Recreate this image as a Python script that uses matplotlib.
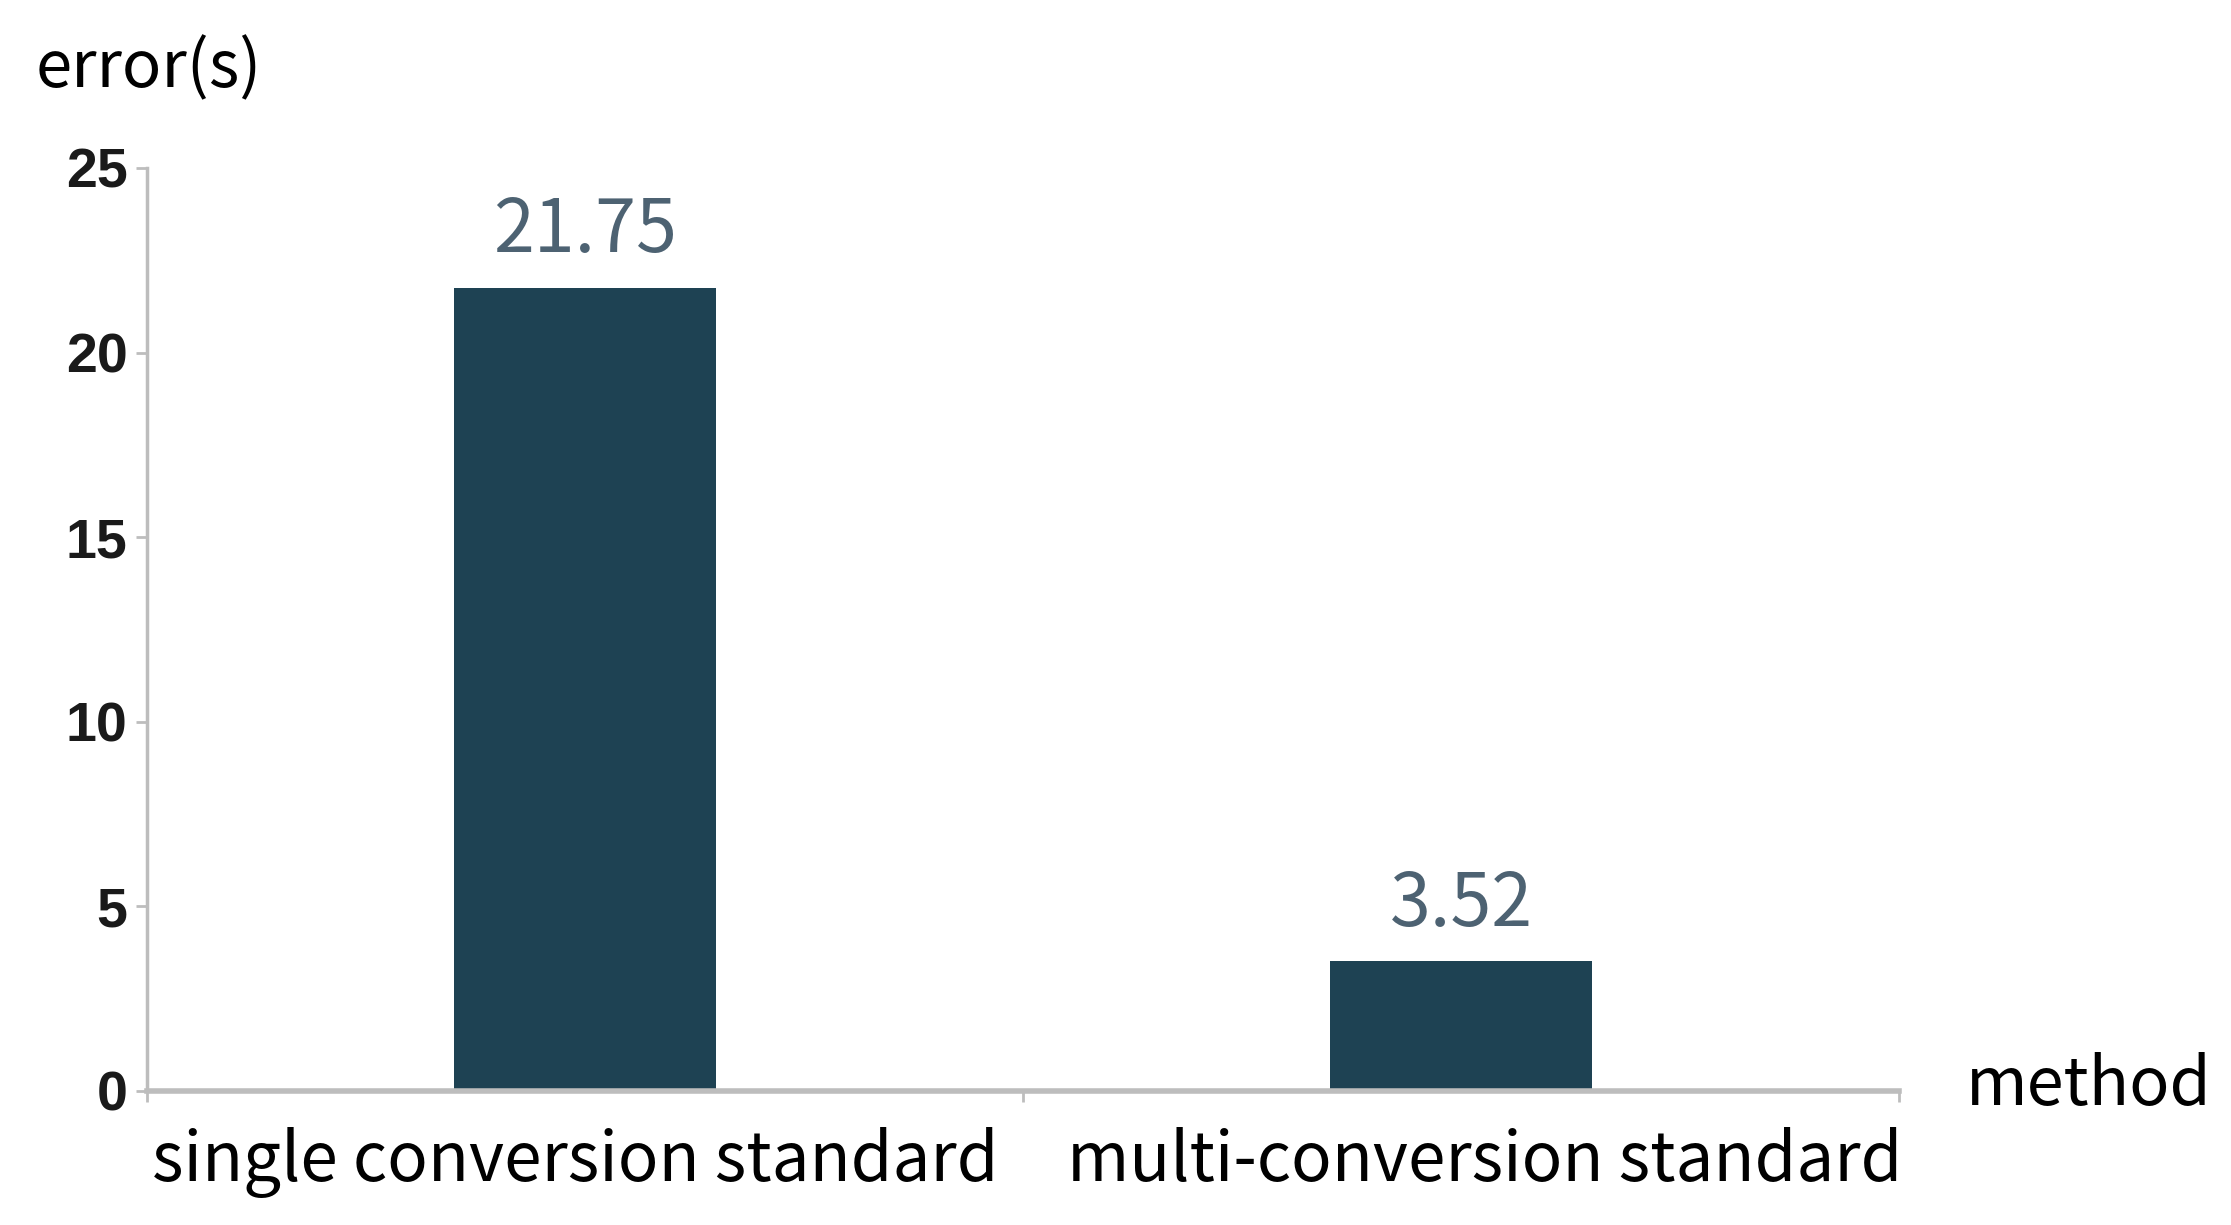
import matplotlib.pyplot as plt
import matplotlib.transforms as mtransforms

categories = ['single conversion standard', 'multi-conversion standard']
errors = [21.75, 3.52]
y_ticks = [0, 5, 10, 15, 20, 25]

bar_color = '#1e4253'
label_color = '#4d6272'
axis_color = '#bdbdbd'
cat_font = ['Noto Sans CJK SC', 'DejaVu Sans']

fig = plt.figure(figsize=(22.31, 12.25), dpi=100)
ax = fig.add_axes([0.0659, 0.1094, 0.7853, 0.7535])

x = range(len(categories))
bars = ax.bar(x, errors, width=0.3, color=bar_color)
for b, v in zip(bars, errors):
    ax.text(b.get_x() + b.get_width() / 2, v + 0.5, '{:.2f}'.format(v),
            ha='center', va='bottom', fontsize=53, color=label_color,
            family=cat_font)

ax.set_xlim(-0.5, len(categories) - 0.5)
ax.set_ylim(0, 25)
ax.set_yticks(y_ticks)
ax.set_yticklabels([str(t) for t in y_ticks], family='Liberation Sans',
                   fontsize=40, fontweight='bold', color='#1a1a1a')

# category labels sit between the boundary ticks
ax.set_xticks([i - 0.5 for i in range(len(categories) + 1)])
ax.set_xticklabels([])
ax.set_xticks(list(x), minor=True)
ax.set_xticklabels(categories, minor=True, family=cat_font, fontsize=48.5)
ax.tick_params(axis='x', which='minor', length=0, pad=26)
ax.tick_params(axis='x', which='major', length=8, width=2, color=axis_color)
ax.tick_params(axis='y', length=8, width=2, color=axis_color, pad=6)

# labels in the original are nudged apart a little
for lab, dx in zip(ax.get_xticklabels(minor=True), [-10, 24]):
    lab.set_transform(lab.get_transform() +
                      mtransforms.ScaledTranslation(dx / 100, 0, fig.dpi_scale_trans))

for s in ['top', 'right']:
    ax.spines[s].set_visible(False)
ax.spines['left'].set_color(axis_color)
ax.spines['left'].set_linewidth(2.5)
ax.spines['bottom'].set_color(axis_color)
ax.spines['bottom'].set_linewidth(4)

fig.text(0.016, 0.944, 'error(s)', family=cat_font, fontsize=47,
         va='center', ha='left')
fig.text(0.881, 0.113, 'method', family=cat_font, fontsize=48,
         va='center', ha='left')

fig.savefig('out.png', dpi=100)
